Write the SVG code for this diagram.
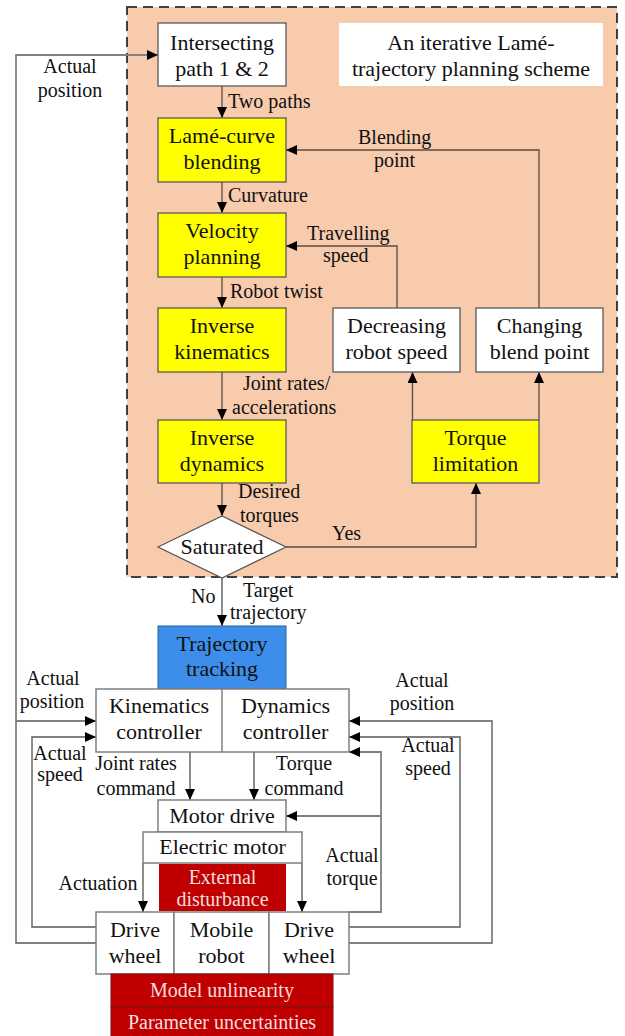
<svg xmlns="http://www.w3.org/2000/svg" width="625" height="1036" viewBox="0 0 625 1036">
<style>
text{font-family:"Liberation Serif","Times New Roman",serif;fill:#111}
.b{font-size:22px;text-anchor:middle}
.l{font-size:20px}
.c{text-anchor:middle}
.w{fill:#fff;stroke:#595959;stroke-width:1.3}
.y{fill:#ffff00;stroke:#595959;stroke-width:1.3}
.g{fill:#fff;stroke:#7f7f7f;stroke-width:1.5}
.r{fill:#c00000;stroke:#7f1010;stroke-width:1}
.rt{fill:#f4dede;font-size:20px;text-anchor:middle}
.cu{fill:none;stroke:#5a4a42;stroke-width:1.3}
.cl{fill:none;stroke:#808080;stroke-width:1.8}
</style>
<defs>
<marker id="a" markerUnits="userSpaceOnUse" markerWidth="12" markerHeight="10" refX="11" refY="5" orient="auto">
<path d="M0,0 L11,5 L0,10 z" fill="#000"/>
</marker>
</defs>
<rect x="127" y="7" width="490" height="570" fill="#f8cbad" stroke="#404040" stroke-width="2" stroke-dasharray="10 6"/>
<g id="title"><rect x="339" y="23" width="264" height="63" fill="#fff"/><text class="b" x="471" y="50">An iterative Lamé-</text><text class="b" x="471" y="76">trajectory planning scheme</text></g>
<g id="connectors">
<path class="cu" d="M222,86V118" marker-end="url(#a)"/>
<path class="cu" d="M222,182V213" marker-end="url(#a)"/>
<path class="cu" d="M222,277V308" marker-end="url(#a)"/>
<path class="cu" d="M222,372V420" marker-end="url(#a)"/>
<path class="cu" d="M222,483V516" marker-end="url(#a)"/>
<path class="cu" d="M286,547H476V483" marker-end="url(#a)"/>
<path class="cu" d="M412.5,420V372" marker-end="url(#a)"/>
<path class="cu" d="M539,420V372" marker-end="url(#a)"/>
<path class="cu" d="M397,308V246H286" marker-end="url(#a)"/>
<path class="cu" d="M539,308V150H286" marker-end="url(#a)"/>
<path class="cl" d="M96,943H16V55H158" marker-end="url(#a)"/>
<path class="cl" d="M16,721H96" marker-end="url(#a)"/>
<path class="cl" d="M96,927H32V737H96" marker-end="url(#a)"/>
<path class="cl" d="M349,943H492V721H349" marker-end="url(#a)"/>
<path class="cl" d="M349,927H460V737H349" marker-end="url(#a)"/>
<path class="cl" d="M349,912H381V752H349" marker-end="url(#a)"/>
<path class="cl" d="M381,816H286" marker-end="url(#a)"/>
<path class="cl" d="M222,578V626" marker-end="url(#a)"/>
<path class="cl" d="M190,752V800" marker-end="url(#a)"/>
<path class="cl" d="M254,752V800" marker-end="url(#a)"/>
<path class="cl" d="M143,863V912" marker-end="url(#a)"/>
<path class="cl" d="M302,863V912" marker-end="url(#a)"/>
</g>
<g id="intersect"><rect class="w" x="158" y="23" width="128" height="63"/><text class="b" x="222" y="50">Intersecting</text><text class="b" x="222" y="76">path 1 &amp; 2</text></g>
<g id="lame"><rect class="y" x="158" y="118" width="128" height="64"/><text class="b" x="222" y="143">Lamé-curve</text><text class="b" x="222" y="169">blending</text></g>
<g id="velocity"><rect class="y" x="158" y="213" width="128" height="64"/><text class="b" x="222" y="238">Velocity</text><text class="b" x="222" y="264">planning</text></g>
<g id="invkin"><rect class="y" x="158" y="308" width="128" height="64"/><text class="b" x="222" y="333">Inverse</text><text class="b" x="222" y="359">kinematics</text></g>
<g id="invdyn"><rect class="y" x="158" y="420" width="128" height="63"/><text class="b" x="222" y="445">Inverse</text><text class="b" x="222" y="471">dynamics</text></g>
<g id="saturated"><polygon points="158,547 222,516 286,547 222,578" fill="#fff" stroke="#595959" stroke-width="1.3"/><text class="b" x="222" y="554">Saturated</text></g>
<g id="decreasing"><rect class="w" x="333" y="308" width="127" height="64"/><text class="b" x="396.5" y="333">Decreasing</text><text class="b" x="396.5" y="359">robot speed</text></g>
<g id="changing"><rect class="w" x="476" y="308" width="127" height="64"/><text class="b" x="539.5" y="333">Changing</text><text class="b" x="539.5" y="359">blend point</text></g>
<g id="torque"><rect class="y" x="412" y="420" width="127" height="63"/><text class="b" x="475.5" y="445">Torque</text><text class="b" x="475.5" y="471">limitation</text></g>
<g id="trajtrack"><rect x="158" y="626" width="128" height="63" fill="#3d8eea" stroke="#2a5f9e" stroke-width="1"/><text class="b" x="222" y="651">Trajectory</text><text class="b" x="222" y="676">tracking</text></g>
<g id="controller"><rect class="g" x="96" y="689" width="253" height="63"/><line x1="222" y1="689" x2="222" y2="752" stroke="#7f7f7f" stroke-width="1.5"/><text class="b" x="159" y="713">Kinematics</text><text class="b" x="159" y="739">controller</text><text class="b" x="285.5" y="713">Dynamics</text><text class="b" x="285.5" y="739">controller</text></g>
<g id="motordrive"><rect class="g" x="158" y="800" width="128" height="32"/><text class="b" x="222" y="823">Motor drive</text></g>
<g id="electricmotor"><rect class="g" x="143" y="832" width="159" height="31"/><text class="b" x="222.5" y="854">Electric motor</text></g>
<g id="disturbance"><rect x="159" y="864" width="127" height="47" fill="#c00000"/><text class="rt" x="222.5" y="884">External</text><text class="rt" x="222.5" y="906">disturbance</text></g>
<g id="robot"><rect class="g" x="96" y="912" width="78" height="62"/><rect class="g" x="174" y="912" width="95" height="62"/><rect class="g" x="269" y="912" width="80" height="62"/><text class="b" x="135" y="937">Drive</text><text class="b" x="135" y="963">wheel</text><text class="b" x="221.5" y="937">Mobile</text><text class="b" x="221.5" y="963">robot</text><text class="b" x="309" y="937">Drive</text><text class="b" x="309" y="963">wheel</text></g>
<g id="unlinearity"><rect class="r" x="111" y="974" width="222" height="33"/><text class="rt" x="222" y="997">Model unlinearity</text></g>
<g id="uncertainties"><rect class="r" x="111" y="1007" width="222" height="32"/><text class="rt" x="222" y="1029">Parameter uncertainties</text></g>
<g id="labels" class="l">
<text x="228" y="108">Two paths</text>
<text x="228" y="202">Curvature</text>
<text x="230" y="298">Robot twist</text>
<text x="243" y="390">Joint rates/</text>
<text x="232" y="414">accelerations</text>
<text x="238" y="498">Desired</text>
<text x="240" y="522">torques</text>
<text x="332" y="540">Yes</text>
<text x="358" y="144">Blending</text>
<text x="374" y="167">point</text>
<text x="307" y="240">Travelling</text>
<text x="323" y="262">speed</text>
<text class="c" x="70" y="73">Actual</text>
<text class="c" x="70" y="97">position</text>
<text x="191" y="603">No</text>
<text x="243" y="597">Target</text>
<text x="230" y="619">trajectory</text>
<text class="c" x="53" y="685">Actual</text>
<text class="c" x="52" y="708">position</text>
<text class="c" x="60" y="760">Actual</text>
<text class="c" x="60" y="781">speed</text>
<text class="c" x="136" y="770">Joint rates</text>
<text class="c" x="136" y="795">command</text>
<text class="c" x="304" y="770">Torque</text>
<text class="c" x="304" y="795">command</text>
<text class="c" x="422" y="687">Actual</text>
<text class="c" x="422" y="710">position</text>
<text class="c" x="428" y="752">Actual</text>
<text class="c" x="428" y="775">speed</text>
<text class="c" x="352" y="862">Actual</text>
<text class="c" x="352" y="885">torque</text>
<text class="c" x="98" y="890">Actuation</text>
</g>
</svg>
